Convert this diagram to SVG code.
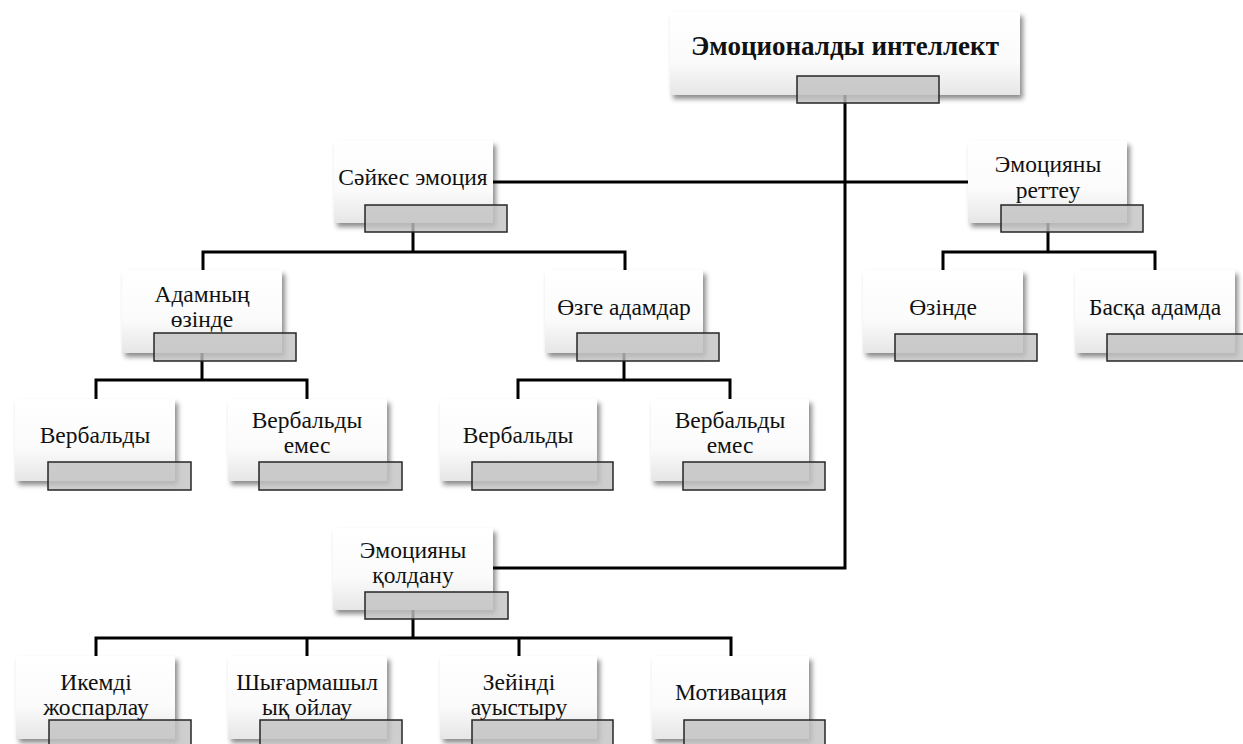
<svg xmlns="http://www.w3.org/2000/svg" width="1243" height="744" viewBox="0 0 1243 744">
<defs>
<linearGradient id="bg" x1="0" y1="0" x2="0" y2="1">
<stop offset="0" stop-color="#ffffff"/>
<stop offset="0.6" stop-color="#fbfbfb"/>
<stop offset="1" stop-color="#e6e6e6"/>
</linearGradient>
<filter id="sh" x="-10%" y="-10%" width="125%" height="130%">
<feDropShadow dx="3" dy="4" stdDeviation="2.5" flood-color="#000" flood-opacity="0.45"/>
</filter>
</defs>
<style>
.box{fill:url(#bg);filter:url(#sh)}
.tab{fill:#c2c2c2;fill-opacity:0.8;stroke:#262626;stroke-width:1.5}
.t{font-family:"Liberation Serif","Times New Roman",serif;font-size:23.5px;fill:#111;text-anchor:middle}
.tb{font-family:"Liberation Serif","Times New Roman",serif;font-size:27px;font-weight:bold;fill:#111;text-anchor:middle}
.c{fill:none;stroke:#000;stroke-width:3;stroke-linejoin:miter;stroke-linecap:square}
</style>
<rect width="1243" height="744" fill="#fff"/>
<g id="connectors">
<path class="c" d="M845 95 V568 H493"/>
<path class="c" d="M493 182 H968"/>
<path class="c" d="M413 223 V252 M203 252 H625 M203 252 V270 M625 252 V270"/>
<path class="c" d="M1048 223 V252 M943 252 H1155 M943 252 V270 M1155 252 V270"/>
<path class="c" d="M202 353 V380 M96 380 H307 M96 380 V399 M307 380 V399"/>
<path class="c" d="M624 353 V380 M518 380 H730 M518 380 V399 M730 380 V399"/>
<path class="c" d="M413 610 V638 M96 638 H731 M96 638 V656 M307 638 V656 M519 638 V656 M731 638 V656"/>
</g>
<g id="n-root">
<rect class="box" x="670" y="12" width="350" height="83"/>
<rect class="tab" x="797" y="76" width="142" height="27"/>
<text class="tb" x="845" y="55">Эмоционалды интеллект</text>
</g>
<g id="n-saykes">
<rect class="box" x="334" y="141" width="159" height="82"/>
<rect class="tab" x="365" y="205" width="142" height="27"/>
<text class="t" x="413" y="185">Сәйкес эмоция</text>
</g>
<g id="n-rettey">
<rect class="box" x="968" y="141" width="159" height="82"/>
<rect class="tab" x="1001" y="205" width="142" height="27"/>
<text class="t" x="1048" y="172">Эмоцияны</text>
<text class="t" x="1048" y="198">реттеу</text>
</g>
<g id="n-adam">
<rect class="box" x="122" y="270" width="160" height="83"/>
<rect class="tab" x="154" y="333" width="142" height="28"/>
<text class="t" x="202" y="302">Адамның</text>
<text class="t" x="202" y="327">өзінде</text>
</g>
<g id="n-ozge">
<rect class="box" x="545" y="270" width="158" height="83"/>
<rect class="tab" x="577" y="333" width="142" height="28"/>
<text class="t" x="624" y="315">Өзге адамдар</text>
</g>
<g id="n-ozinde">
<rect class="box" x="863" y="270" width="160" height="83"/>
<rect class="tab" x="895" y="334" width="142" height="27"/>
<text class="t" x="943" y="315">Өзінде</text>
</g>
<g id="n-baska">
<rect class="box" x="1075" y="270" width="160" height="83"/>
<rect class="tab" x="1107" y="334" width="142" height="27"/>
<text class="t" x="1155" y="315">Басқа адамда</text>
</g>
<g id="n-verb1">
<rect class="box" x="15" y="399" width="160" height="82"/>
<rect class="tab" x="48" y="462" width="143" height="28"/>
<text class="t" x="95" y="443">Вербальды</text>
</g>
<g id="n-verbemes1">
<rect class="box" x="228" y="399" width="159" height="82"/>
<rect class="tab" x="259" y="462" width="143" height="28"/>
<text class="t" x="307" y="428">Вербальды</text>
<text class="t" x="307" y="453">емес</text>
</g>
<g id="n-verb2">
<rect class="box" x="440" y="399" width="157" height="82"/>
<rect class="tab" x="472" y="462" width="141" height="28"/>
<text class="t" x="518" y="443">Вербальды</text>
</g>
<g id="n-verbemes2">
<rect class="box" x="651" y="399" width="158" height="82"/>
<rect class="tab" x="683" y="462" width="142" height="28"/>
<text class="t" x="730" y="428">Вербальды</text>
<text class="t" x="730" y="453">емес</text>
</g>
<g id="n-koldanu">
<rect class="box" x="333" y="528" width="160" height="82"/>
<rect class="tab" x="365" y="592" width="143" height="27"/>
<text class="t" x="413" y="558">Эмоцияны</text>
<text class="t" x="413" y="583">қолдану</text>
</g>
<g id="n-ikemdi">
<rect class="box" x="16" y="656" width="159" height="83"/>
<rect class="tab" x="49" y="720" width="142" height="28"/>
<text class="t" x="96" y="690">Икемді</text>
<text class="t" x="96" y="715">жоспарлау</text>
</g>
<g id="n-shygarm">
<rect class="box" x="228" y="656" width="159" height="83"/>
<rect class="tab" x="260" y="720" width="142" height="28"/>
<text class="t" x="307" y="690">Шығармашыл</text>
<text class="t" x="307" y="715">ық ойлау</text>
</g>
<g id="n-zeyin">
<rect class="box" x="440" y="656" width="157" height="83"/>
<rect class="tab" x="472" y="720" width="141" height="28"/>
<text class="t" x="519" y="690">Зейінді</text>
<text class="t" x="519" y="715">ауыстыру</text>
</g>
<g id="n-motiv">
<rect class="box" x="652" y="656" width="157" height="83"/>
<rect class="tab" x="684" y="720" width="141" height="28"/>
<text class="t" x="731" y="700">Мотивация</text>
</g>
</svg>
